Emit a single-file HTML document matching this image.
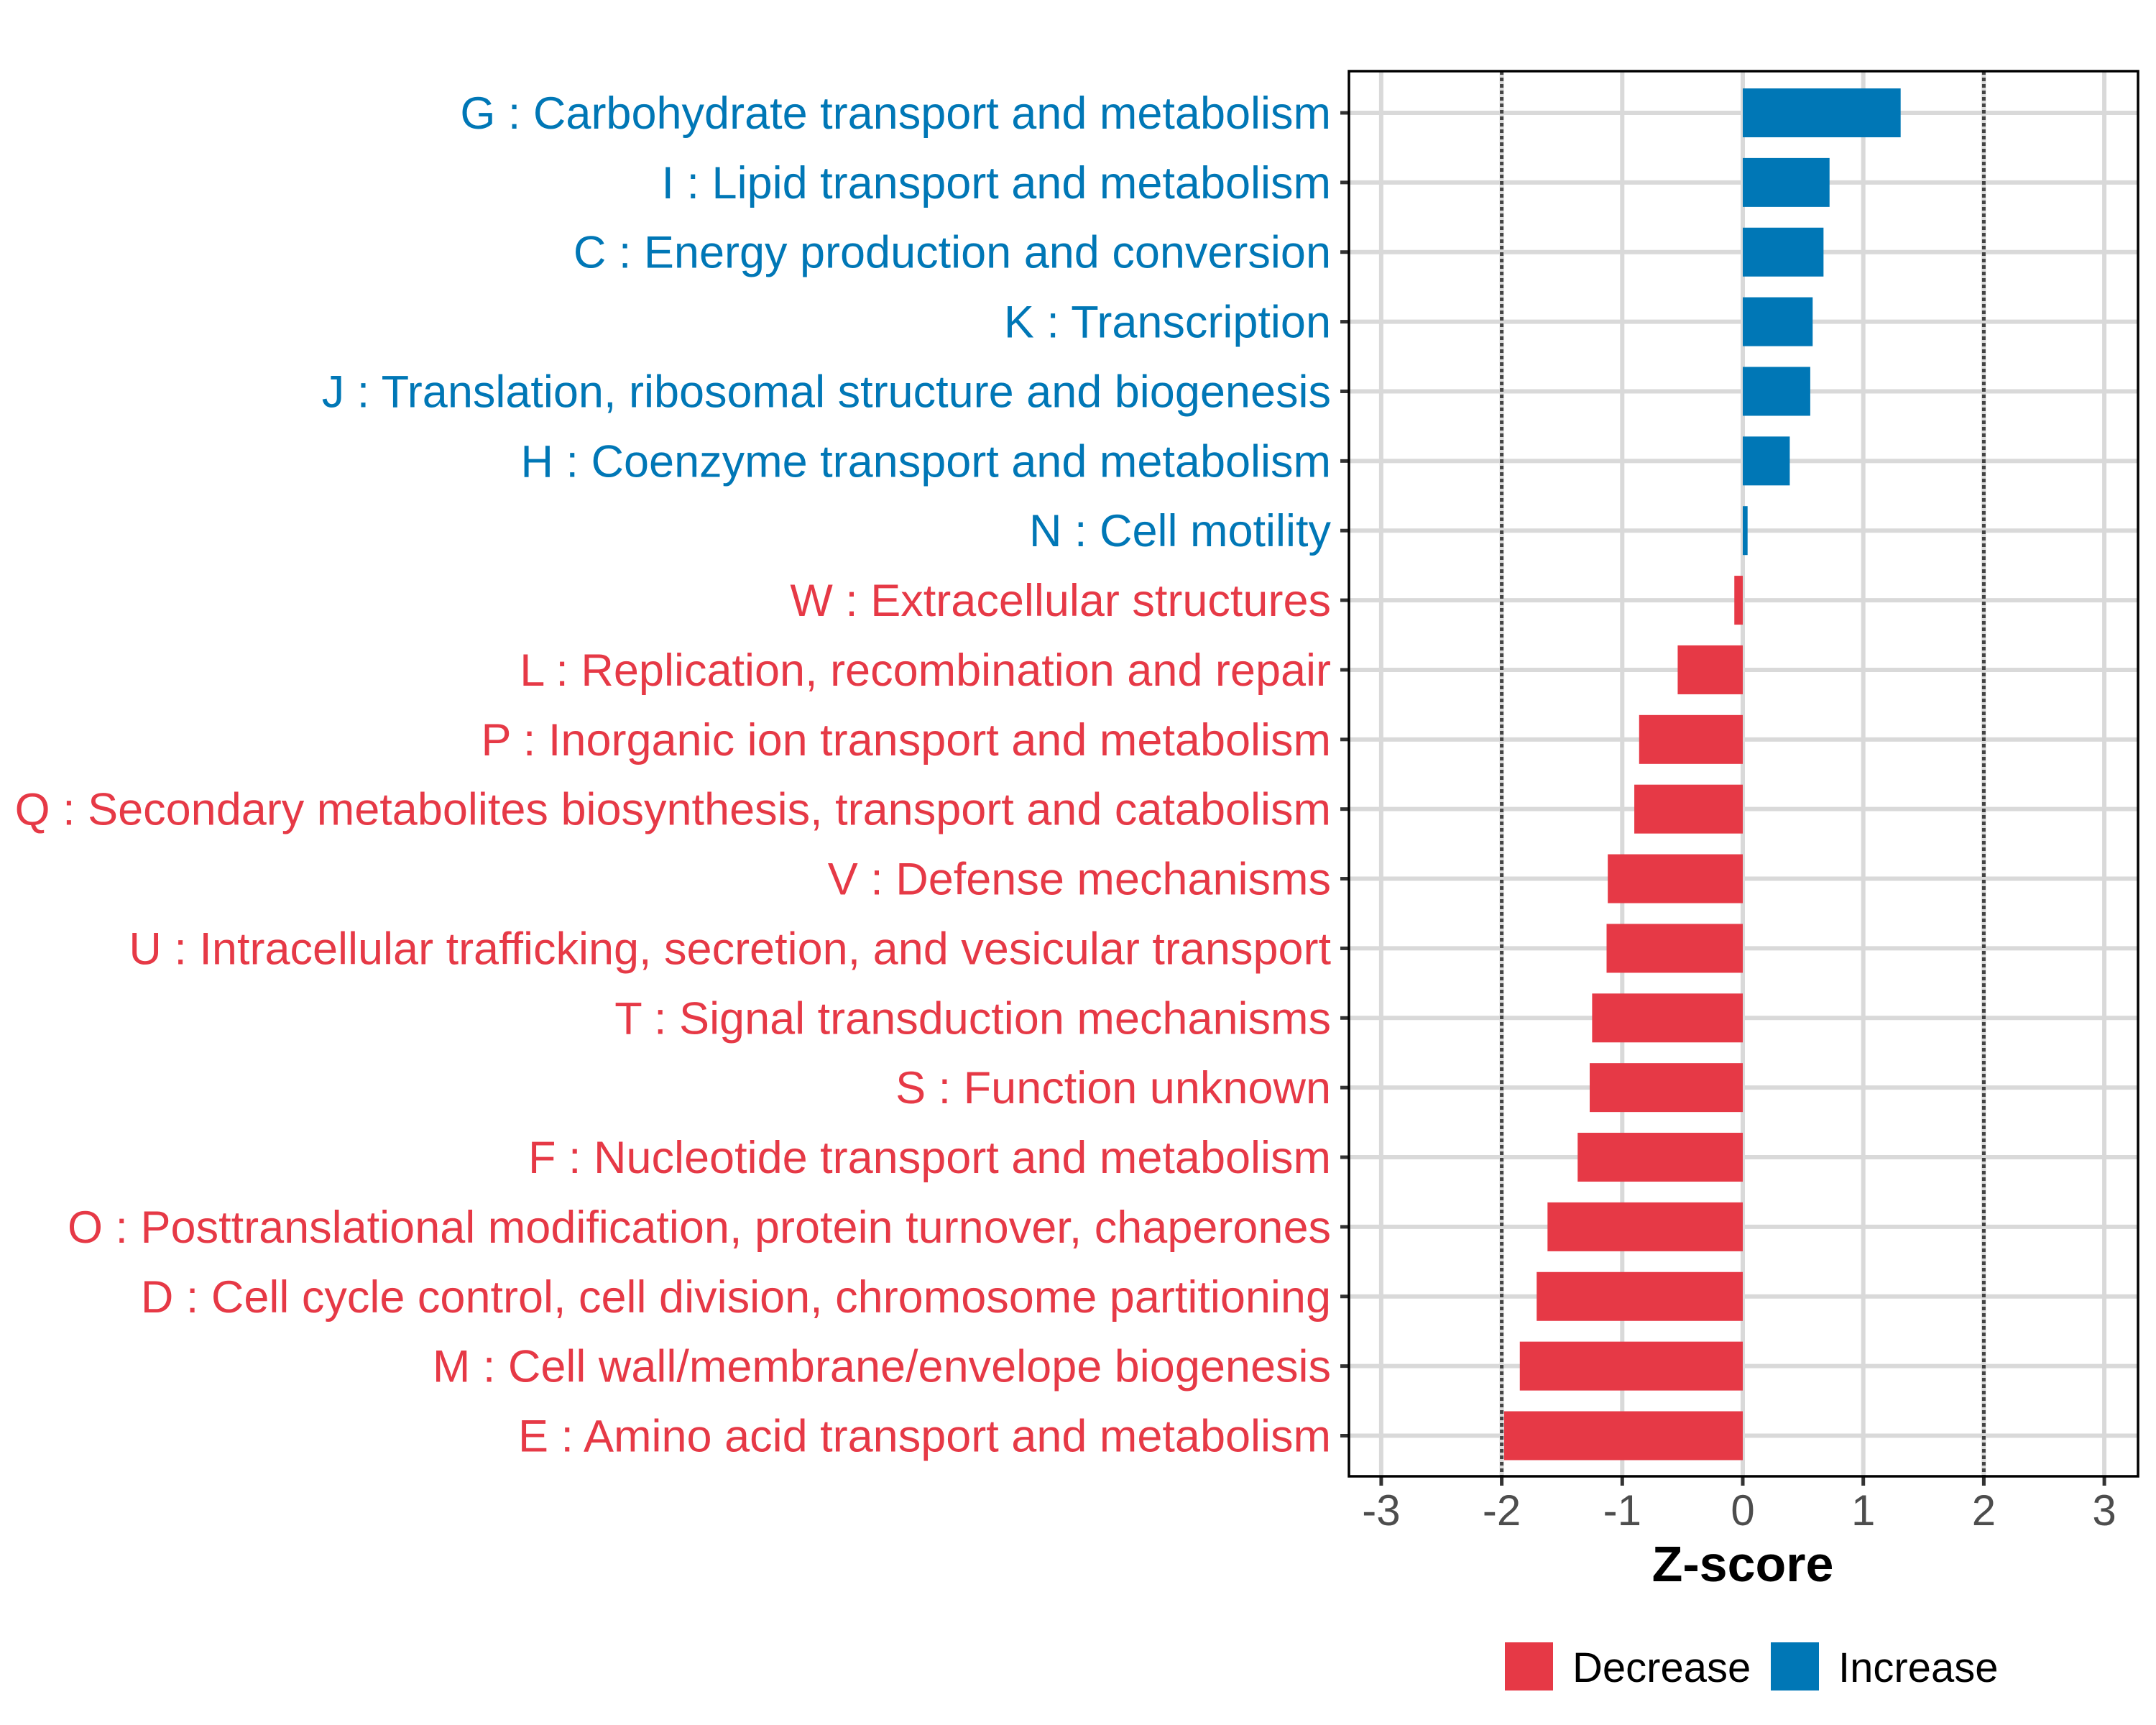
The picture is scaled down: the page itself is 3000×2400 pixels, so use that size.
<!DOCTYPE html>
<html><head><meta charset="utf-8"><style>
html,body{margin:0;padding:0;background:#fff;}
svg{display:block;font-family:"Liberation Sans",Arial,sans-serif;}
</style></head><body>
<svg id="chart" width="3000" height="2400" viewBox="0 0 3000 2400" xmlns="http://www.w3.org/2000/svg">
<rect width="3000" height="2400" fill="#fff"/>
<g id="grid"></g>
<g id="bars"></g>
<g id="ylabels"></g>
<g id="xaxis"></g>
<rect x="1877" y="99" width="1098" height="1955" fill="none" stroke="#000" stroke-width="3.5"/>
<text x="2425" y="2200" font-size="70" font-weight="bold" text-anchor="middle" fill="#000">Z-score</text>
<g>
<rect x="2094" y="2285" width="67" height="67" fill="#E63946"/>
<text x="2188" y="2340" font-size="58" fill="#000">Decrease</text>
<rect x="2464" y="2285" width="67" height="67" fill="#0077B6"/>
<text x="2558" y="2340" font-size="58" fill="#000">Increase</text>
</g>
</svg>
<script>
const categories = ["G : Carbohydrate transport and metabolism","I : Lipid transport and metabolism","C : Energy production and conversion","K : Transcription","J : Translation, ribosomal structure and biogenesis","H : Coenzyme transport and metabolism","N : Cell motility","W : Extracellular structures","L : Replication, recombination and repair","P : Inorganic ion transport and metabolism","Q : Secondary metabolites biosynthesis, transport and catabolism","V : Defense mechanisms","U : Intracellular trafficking, secretion, and vesicular transport","T : Signal transduction mechanisms","S : Function unknown","F : Nucleotide transport and metabolism","O : Posttranslational modification, protein turnover, chaperones","D : Cell cycle control, cell division, chromosome partitioning","M : Cell wall/membrane/envelope biogenesis","E : Amino acid transport and metabolism"];
const zscores = [1.31,0.72,0.67,0.58,0.56,0.39,0.04,-0.07,-0.54,-0.86,-0.90,-1.12,-1.13,-1.25,-1.27,-1.37,-1.62,-1.71,-1.85,-1.98];
const xTicks = [-3,-2,-1,0,1,2,3];
const xTickLabels = ["-3","-2","-1","0","1","2","3"];
const thresholds = [-2,2];

const NS="http://www.w3.org/2000/svg";
const X0=2425, UNIT=167.7, Y0=157, STEP=(1997.5-157)/19, BH=68;
const LEFT=1877, RIGHT=2975, TOP=99, BOTTOM=2054;
function xs(v){return X0+v*UNIT;}
function ys(i){return Y0+i*STEP;}
function mk(tag,attrs,parent){const e=document.createElementNS(NS,tag);for(const k in attrs)e.setAttribute(k,attrs[k]);parent.appendChild(e);return e;}
const grid=document.getElementById('grid'),bars=document.getElementById('bars'),yl=document.getElementById('ylabels'),xa=document.getElementById('xaxis');
xTicks.forEach((t,i)=>{
  const l=mk('line',{x1:xs(t),x2:xs(t),y1:TOP,y2:BOTTOM,stroke:'#D9D9D9','stroke-width':6},grid);
  
  
  const tk=mk('line',{x1:xs(t),x2:xs(t),y1:BOTTOM,y2:BOTTOM+13,stroke:'#333','stroke-width':5},xa);
  
  
  const tx=mk('text',{x:xs(t),y:2122,'font-size':60,'text-anchor':'middle',fill:'#4D4D4D'},xa);
  tx.textContent=xTickLabels[i];
  
  
});
categories.forEach((c,i)=>{
  const l=mk('line',{x1:LEFT,x2:RIGHT,y1:ys(i),y2:ys(i),stroke:'#D9D9D9','stroke-width':6},grid);
  
  
});
thresholds.forEach(t=>{
  const l=mk('line',{x1:xs(t),x2:xs(t),y1:TOP,y2:BOTTOM,stroke:'#444','stroke-width':5,'stroke-dasharray':'5 4'},grid);
  
  
});
categories.forEach((c,i)=>{
  const v=zscores[i], col=v>=0?'#0077B6':'#E63946';
  const b=mk('rect',{x:Math.min(xs(0),xs(v)),y:ys(i)-BH/2,width:Math.abs(xs(v)-xs(0)),height:BH,fill:col},bars);
  
  
  const tk=mk('line',{x1:LEFT-12,x2:LEFT,y1:ys(i),y2:ys(i),stroke:'#333','stroke-width':5},yl);
  
  
  const t=mk('text',{x:1852,y:ys(i)+22,'font-size':63,'text-anchor':'end',fill:col},yl);
  t.textContent=c;
  
  
});
</script>
</body></html>
